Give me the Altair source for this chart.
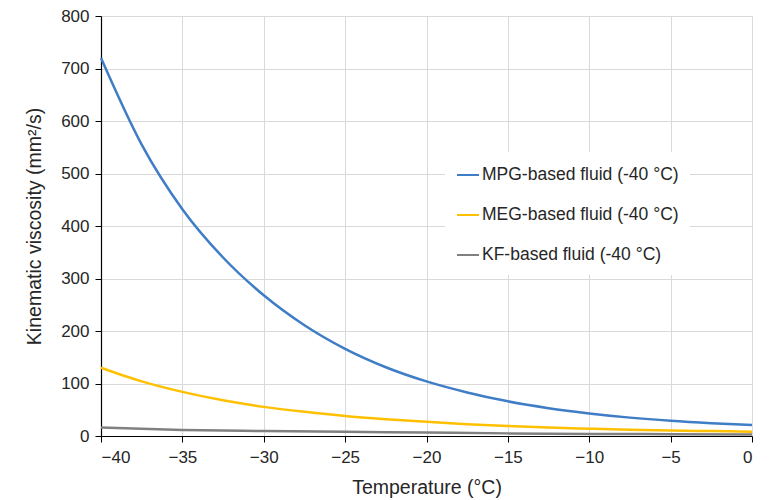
import altair as alt
import pandas as pd

temps_fine = [-40, -37.5, -35, -32.5, -30, -27.5, -25, -22.5, -20,
              -17.5, -15, -12.5, -10, -7.5, -5, -2.5, 0]
mpg = [720, 555, 432, 340, 268, 211, 166, 131, 104,
       83, 66, 53, 43, 35, 29, 24.5, 21]
meg = [130, 104, 84, 68, 55.5, 46, 38, 32, 27,
       22.5, 19, 16, 14, 12, 10.5, 9.3, 8.3]
kf_t = [-40, -35, -30, -25, -20, -15, -10, -5, 0]
kf = [16, 11.5, 9.5, 8, 6.5, 5, 4, 3.5, 3]

series = ["MPG-based fluid (-40 °C)", "MEG-based fluid (-40 °C)", "KF-based fluid (-40 °C)"]
colors = ["#3F7DC6", "#FFC000", "#808080"]

rows = []
for name, ts, vals in zip(series, [temps_fine, temps_fine, kf_t], [mpg, meg, kf]):
    for t, v in zip(ts, vals):
        rows.append({"Temperature": t, "Viscosity": v, "Fluid": name})
df = pd.DataFrame(rows)

FONT = "Liberation Sans"
TXT = "#262626"

chart = alt.Chart(df).mark_line(interpolate="monotone", strokeWidth=2.5).encode(
    x=alt.X("Temperature:Q",
            scale=alt.Scale(domain=[-40, 0], nice=False, zero=False),
            axis=alt.Axis(title="Temperature (°C)", values=list(range(-40, 1, 5)),
                          titlePadding=13, labelPadding=7)),
    y=alt.Y("Viscosity:Q",
            scale=alt.Scale(domain=[0, 800], nice=False),
            axis=alt.Axis(title="Kinematic viscosity (mm²/s)", values=list(range(0, 801, 100)),
                          titlePadding=16, labelPadding=6)),
    color=alt.Color("Fluid:N", sort=series,
                    scale=alt.Scale(domain=series, range=colors),
                    legend=alt.Legend(title=None, orient="none", legendX=344, legendY=136,
                                      symbolType="stroke", symbolSize=484, symbolStrokeWidth=2,
                                      labelFontSize=17.5, labelFont=FONT, labelColor=TXT,
                                      labelLimit=0,
                                      rowPadding=19, padding=11, fillColor="white",
                                      labelOffset=2)),
).properties(
    width=651, height=420,
    autosize=alt.AutoSizeParams(type="none"),
    padding={"left": 93, "top": 8, "right": 10, "bottom": 62},
).configure_view(
    stroke=None
).configure_axis(
    labelFont=FONT, titleFont=FONT, labelFontSize=17, titleFontSize=19.5,
    labelColor=TXT, titleColor=TXT, titleFontWeight="normal",
    domainColor="black", domainWidth=1.2, tickColor="black", tickSize=6,
    gridColor="#D9D9D9", gridWidth=1,
)

chart.save("out.html", embed_options={"renderer": "svg", "actions": False})
